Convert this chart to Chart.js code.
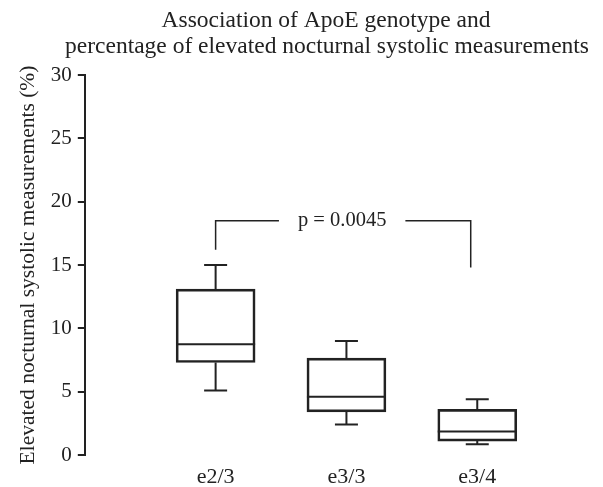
<!DOCTYPE html>
<html lang="en">
<head>
    <meta charset="UTF-8">
    <title>ApoE genotype box plot</title>
    <script src="https://cdn.jsdelivr.net/npm/chart.js"></script>
    <style>
        body { margin: 0; background: #fff; }
        #wrap { width: 603px; height: 487px; }
    </style>
</head>
<body>
<div id="wrap"><canvas id="boxChart"></canvas></div>
<script>
    // box plot values (%)
    const genotypes = ['e2/3', 'e3/3', 'e3/4'];
    const positions = [1, 2, 3];
    const mins    = [5.1, 2.4, 0.85];
    const q1s     = [7.3, 3.4, 1.1];
    const medians = [8.75, 4.6, 1.85];
    const q3s     = [13.1, 7.65, 3.6];
    const maxs    = [15.0, 9.0, 4.4];

    // significance bracket between e2/3 and e3/4
    const bracketX = [1, 2.95];
    const bracketLegs = [16.2, 14.8];
    const bracketTop = 18.5;
    const bracketText = 'p = 0.0045';

    const titleLines = ['Association of ApoE genotype and',
                        'percentage of elevated nocturnal systolic measurements'];

    const ink = '#222';
    const serif = "'Liberation Serif', 'Times New Roman', serif";

    const boxExtras = {
        id: 'boxExtras',
        afterDatasetsDraw(chart) {
            const ctx = chart.ctx;
            const xs = chart.scales.x, ys = chart.scales.y;
            ctx.save();
            ctx.strokeStyle = ink;
            ctx.lineWidth = 2;
            const half = 39.5, cap = 11.5;
            positions.forEach((p, i) => {
                const cx = xs.getPixelForValue(p);
                const yMed = ys.getPixelForValue(medians[i]);
                ctx.beginPath();
                ctx.moveTo(cx - half, yMed); ctx.lineTo(cx + half, yMed);
                // upper whisker
                ctx.moveTo(cx, ys.getPixelForValue(q3s[i])); ctx.lineTo(cx, ys.getPixelForValue(maxs[i]));
                ctx.moveTo(cx - cap, ys.getPixelForValue(maxs[i])); ctx.lineTo(cx + cap, ys.getPixelForValue(maxs[i]));
                // lower whisker
                ctx.moveTo(cx, ys.getPixelForValue(q1s[i])); ctx.lineTo(cx, ys.getPixelForValue(mins[i]));
                ctx.moveTo(cx - cap, ys.getPixelForValue(mins[i])); ctx.lineTo(cx + cap, ys.getPixelForValue(mins[i]));
                ctx.stroke();
            });

            // bracket
            const lx = xs.getPixelForValue(bracketX[0]);
            const rx = xs.getPixelForValue(bracketX[1]);
            const ty = ys.getPixelForValue(bracketTop);
            ctx.font = '20.5px ' + serif;
            ctx.fillStyle = ink;
            ctx.textAlign = 'center';
            ctx.textBaseline = 'middle';
            const mid = (lx + rx) / 2 - 1;
            const tw = ctx.measureText(bracketText).width;
            ctx.lineWidth = 1.5;
            ctx.beginPath();
            ctx.moveTo(lx, ys.getPixelForValue(bracketLegs[0])); ctx.lineTo(lx, ty); ctx.lineTo(mid - tw / 2 - 19, ty);
            ctx.moveTo(mid + tw / 2 + 19, ty); ctx.lineTo(rx, ty); ctx.lineTo(rx, ys.getPixelForValue(bracketLegs[1]));
            ctx.stroke();
            ctx.fillText(bracketText, mid, ty);

            // two-line title
            ctx.font = '23.5px ' + serif;
            ctx.textBaseline = 'alphabetic';
            ctx.fillText(titleLines[0], 326, 27);
            ctx.fillText(titleLines[1], 327, 53);
            ctx.restore();
        }
    };

    new Chart(document.getElementById('boxChart'), {
        type: 'bar',
        data: {
            datasets: [{
                data: positions.map((p, i) => ({ x: p, y: [q1s[i], q3s[i]] })),
                backgroundColor: 'rgba(255,255,255,0)',
                borderColor: ink,
                borderWidth: 2,
                borderSkipped: false,
                barThickness: 79
            }]
        },
        options: {
            responsive: true,
            maintainAspectRatio: false,
            animation: false,
            layout: { padding: { top: 75, right: 8, left: 10, bottom: 0 } },
            plugins: { legend: { display: false }, tooltip: { enabled: false } },
            scales: {
                x: {
                    type: 'linear',
                    offset: false,
                    min: 0,
                    max: 3.9,
                    grid: { display: false, drawTicks: false },
                    border: { display: false },
                    afterBuildTicks: axis => { axis.ticks = positions.map(v => ({ value: v })); },
                    afterFit: axis => { axis.height = 32; },
                    ticks: {
                        color: ink,
                        padding: 11,
                        font: { family: serif, size: 22, lineHeight: 1 },
                        callback: v => genotypes[positions.indexOf(v)] || ''
                    }
                },
                y: {
                    min: 0,
                    max: 30,
                    grid: { drawOnChartArea: false, drawTicks: true, tickLength: 7, color: ink, lineWidth: 2 },
                    border: { color: ink, width: 2 },
                    ticks: { stepSize: 5, color: ink, padding: 6, font: { family: serif, size: 21 } },
                    title: {
                        display: true,
                        text: 'Elevated nocturnal systolic measurements (%)',
                        color: ink,
                        font: { family: serif, size: 21.5 },
                        padding: { top: 5, bottom: 4 }
                    }
                }
            }
        },
        plugins: [boxExtras]
    });
</script>
</body>
</html>
